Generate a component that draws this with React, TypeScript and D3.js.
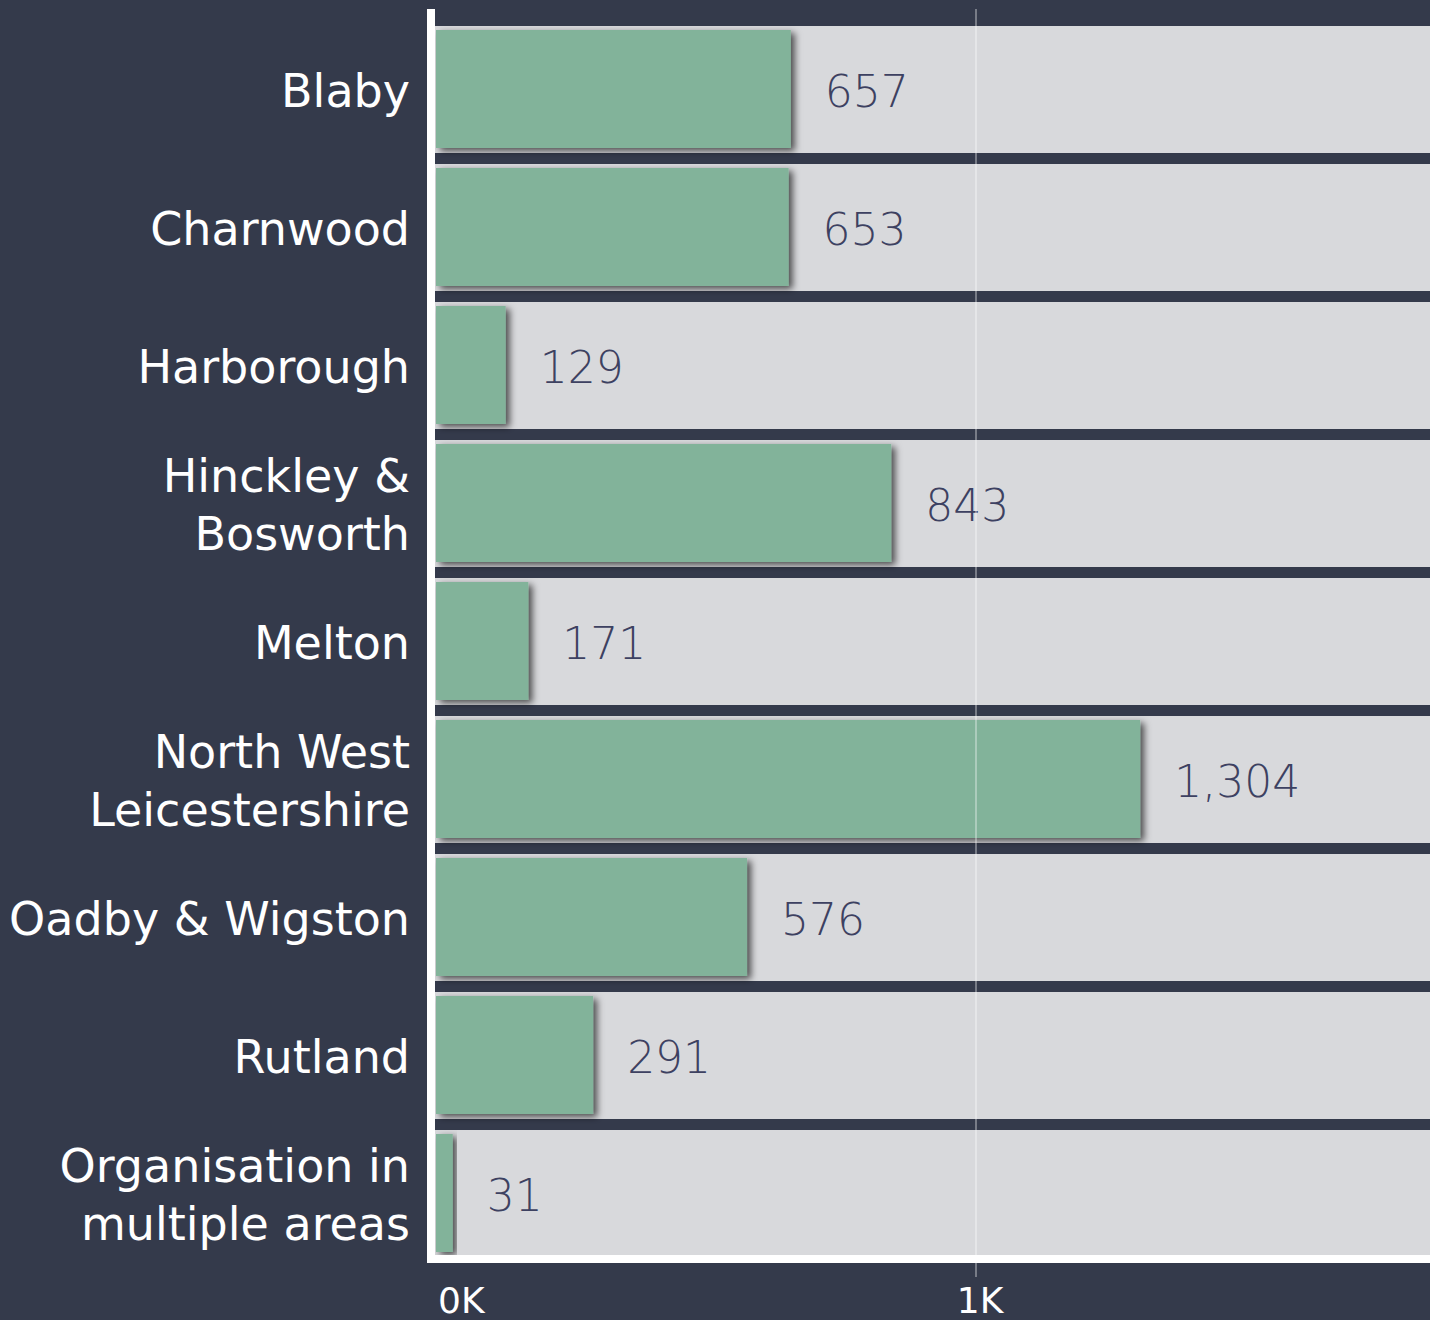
import React from "react";
import * as d3 from "d3";

const categories = [
  "Blaby",
  "Charnwood",
  "Harborough",
  "Hinckley & Bosworth",
  "Melton",
  "North West Leicestershire",
  "Oadby & Wigston",
  "Rutland",
  "Organisation in multiple areas",
];
const categoryLines = [
  ["Blaby"],
  ["Charnwood"],
  ["Harborough"],
  ["Hinckley &", "Bosworth"],
  ["Melton"],
  ["North West", "Leicestershire"],
  ["Oadby & Wigston"],
  ["Rutland"],
  ["Organisation in", "multiple areas"],
];
const values = [657, 653, 129, 843, 171, 1304, 576, 291, 31];
const xTicks = [0, 1000];

const W = 1430;
const H = 1320;
const BG = "#343a4b";
const BAND = "#d8d9dc";
const BAR = "#82b39a";
const VALUE_TEXT = "#3d4161";
const FONT = "'DejaVu Sans', sans-serif";

export default function App() {
  const plotLeft = 435;
  const x = d3.scaleLinear().domain([0, 1000]).range([436, 976]);
  const y = d3
    .scaleBand<string>()
    .domain(categories)
    .range([26, 1257])
    .paddingInner(11 / 138)
    .paddingOuter(0);
  const bw = y.bandwidth();
  const fmt = d3.format(",");
  const fontSize = 46;
  const lineGap = 58;
  const capHalf = 17;

  return (
    <svg
      width={W}
      height={H}
      style={{ position: "absolute", left: 0, top: 0, display: "block" }}
    >
      <defs>
        <filter id="shadow" x="-10%" y="-20%" width="130%" height="150%">
          <feDropShadow dx="4" dy="3" stdDeviation="3.5" floodColor="#000" floodOpacity="0.65" />
        </filter>
      </defs>
      <rect x={0} y={0} width={W} height={H} fill={BG} />
      {categories.map((c, i) => {
        const top = y(c) as number;
        const cy = top + bw / 2;
        const lines = categoryLines[i];
        const firstBaseline = cy + capHalf - ((lines.length - 1) * lineGap) / 2;
        return (
          <g key={c}>
            <rect x={plotLeft} y={top} width={W - plotLeft} height={bw} fill={BAND} />
            <rect
              x={x(0)}
              y={top + 4}
              width={x(values[i]) - x(0)}
              height={bw - 9}
              fill={BAR}
              filter="url(#shadow)"
            />
            <text
              x={x(values[i]) + 34}
              y={cy + 17}
              fill={VALUE_TEXT}
              fontFamily={FONT}
              fontSize={44}
              fontWeight={300}
            >
              {fmt(values[i])}
            </text>
            <text
              textAnchor="end"
              fill="#ffffff"
              fontFamily={FONT}
              fontSize={fontSize}
            >
              {lines.map((l, j) => (
                <tspan key={j} x={410} y={firstBaseline + j * lineGap}>
                  {l}
                </tspan>
              ))}
            </text>
          </g>
        );
      })}
      {xTicks.slice(1).map((t) => (
        <line
          key={"g" + t}
          x1={x(t)}
          x2={x(t)}
          y1={9}
          y2={1277}
          stroke="#ffffff"
          strokeOpacity={0.45}
          strokeWidth={1.5}
        />
      ))}
      <rect x={427} y={9} width={8} height={1254} fill="#ffffff" />
      <rect x={427} y={1255} width={W - 427} height={8} fill="#ffffff" />
      {xTicks.map((t, i) => (
        <text
          key={"t" + t}
          x={i === 0 ? x(t) + 2 : x(t) + 4}
          y={1313}
          textAnchor={i === 0 ? "start" : "middle"}
          fill="#ffffff"
          fontFamily={FONT}
          fontSize={36}
        >
          {`${t / 1000}K`}
        </text>
      ))}
    </svg>
  );
}
